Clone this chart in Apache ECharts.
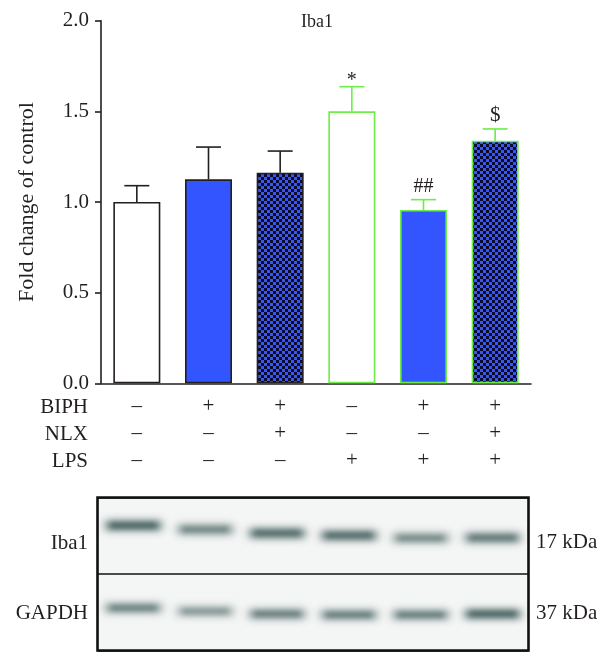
<!DOCTYPE html>
<html><head><meta charset="utf-8">
<script src="https://cdn.jsdelivr.net/npm/echarts@6/dist/echarts.min.js"></script>
<style>html,body{margin:0;padding:0;background:#fff}#c{width:610px;height:667px}</style>
</head><body><div id="c"></div>
<script>
// ---- data ----
const groups = ['Control', 'BIPH', 'BIPH+NLX', 'LPS', 'BIPH+LPS', 'BIPH+NLX+LPS'];
const means = [1.00, 1.125, 1.162, 1.50, 0.956, 1.338];
const sems = [0.09, 0.178, 0.119, 0.136, 0.057, 0.065];
const signif = ['', '', '', '*', '##', '$'];
const biph = ['–', '+', '+', '–', '+', '+'];
const nlx = ['–', '–', '+', '–', '–', '+'];
const lps = ['–', '–', '–', '+', '+', '+'];
const rowNames = ['BIPH', 'NLX', 'LPS'];
const chartTitle = 'Iba1';
const yAxisName = 'Fold change of control';
const blotLanes = ['1', '2', '3', '4', '5', '6'];
const blotRowNames = ['Iba1', 'GAPDH'];
const blotSizes = ['17 kDa', '37 kDa'];
const iba1BandPos = [18.3, 20.9, 23.3, 24.8, 26.5, 26.3];
const iba1BandInt = [0.95, 0.8, 0.92, 0.92, 0.78, 0.86];
const gapdhBandPos = [72.2, 74.4, 76.1, 76.7, 76.7, 76.1];
const gapdhBandInt = [0.86, 0.76, 0.88, 0.88, 0.88, 1.0];

// ---- styles ----
const FONT = '"Liberation Serif", "DejaVu Serif", serif';
const INK = '#231f20';
const BLUE = '#3355ff';
const GREEN = '#6cee48';

function checker() {
  const c = document.createElement('canvas');
  c.width = 6; c.height = 6;
  const g = c.getContext('2d');
  g.fillStyle = '#3a58ef'; g.fillRect(0, 0, 6, 6);
  g.fillStyle = '#0b0b2a'; g.fillRect(0, 0, 3, 3); g.fillRect(3, 3, 3, 3);
  return c;
}
const pat = { image: checker(), repeat: 'repeat' };
const fills = ['#ffffff', BLUE, pat, '#ffffff', BLUE, pat];
const borders = [INK, INK, INK, GREEN, GREEN, GREEN];

const chart = echarts.init(document.getElementById('c'), null, { renderer: 'canvas' });

const barData = means.map((m, i) => ({
  value: m,
  itemStyle: { color: fills[i], borderColor: borders[i], borderWidth: 1.6 }
}));
const errData = means.map((m, i) => [i, m, m + sems[i]]);

const bandData = [];
blotLanes.forEach((l, i) => {
  bandData.push([i, iba1BandPos[i], iba1BandInt[i], 8]);
  bandData.push([i, gapdhBandPos[i], gapdhBandInt[i], 7]);
});

function txt(x, y, text, size, align) {
  return { type: 'text', x: x, y: y, z: 10, style: { text: text, fontSize: size, fontFamily: FONT, fill: INK,
    align: align, verticalAlign: 'middle', textAlign: align, textVerticalAlign: 'middle' } };
}

const OFF = 3000;
const option = {
  backgroundColor: '#ffffff',
  animation: false,
  textStyle: { fontFamily: FONT },
  grid: [
    { left: 101, width: 430, top: 20.7, height: 362.6, containLabel: false },
    { left: 97.5, width: 431, top: 497.5, height: 153, show: true,
      borderColor: '#111', borderWidth: 2.6, backgroundColor: '#f4f6f5' }
  ],
  xAxis: [
    { type: 'category', gridIndex: 0, data: groups,
      axisLine: { lineStyle: { color: INK, width: 1.6 } },
      axisTick: { alignWithLabel: true, length: 6, lineStyle: { color: INK, width: 1.6 } },
      axisLabel: { interval: 0, margin: 10, fontSize: 21, lineHeight: 27, color: INK, fontFamily: FONT,
        formatter: (v, idx) => [biph[idx], nlx[idx], lps[idx]].join('\n') } },
    { type: 'category', gridIndex: 1, data: blotLanes, show: false }
  ],
  yAxis: [
    { type: 'value', gridIndex: 0, min: 0, max: 2, interval: 0.5,
      name: yAxisName, nameLocation: 'middle', nameGap: 63, nameRotate: 90,
      nameTextStyle: { fontSize: 22, color: INK, fontFamily: FONT },
      axisLine: { show: true, lineStyle: { color: INK, width: 1.6 } },
      axisTick: { show: true, length: 6, lineStyle: { color: INK, width: 1.6 } },
      splitLine: { show: false },
      axisLabel: { fontSize: 21, color: INK, margin: 12, fontFamily: FONT, formatter: v => v.toFixed(1) } },
    { type: 'value', gridIndex: 1, min: 0, max: 100, interval: 50, inverse: true,
      axisLine: { show: false }, axisTick: { show: false }, axisLabel: { show: false },
      splitLine: { show: true, lineStyle: { color: '#111', width: 1.6 } } }
  ],
  graphic: [
    txt(317, 22, chartTitle, 18, 'center'),
    ...rowNames.map((t, k) => txt(88, 407.7 + k * 27, t, 21, 'right')),
    ...blotRowNames.map((t, k) => txt(88, 543 + k * 70, t, 21, 'right')),
    ...blotSizes.map((t, k) => txt(536, 542 + k * 71, t, 21, 'left'))
  ],
  series: [
    { type: 'bar', xAxisIndex: 0, yAxisIndex: 0, data: barData, barWidth: 47, z: 2 },
    { type: 'custom', xAxisIndex: 0, yAxisIndex: 0, data: errData, z: 3,
      renderItem: (params, api) => {
        const i = api.value(0);
        const b = api.coord([i, api.value(1)]);
        const t = api.coord([i, api.value(2)]);
        const col = borders[i];
        const half = 12.5;
        const lbl = signif[i];
        const fs = lbl === '##' ? 20 : (lbl === '$' ? 21 : 20);
        return { type: 'group', children: [
          { type: 'line', shape: { x1: b[0], y1: b[1], x2: t[0], y2: t[1] }, style: { stroke: col, lineWidth: 1.6 } },
          { type: 'line', shape: { x1: t[0] - half, y1: t[1], x2: t[0] + half, y2: t[1] }, style: { stroke: col, lineWidth: 1.6 } },
          { type: 'text', x: t[0], y: t[1] - (lbl === '*' ? 6 : 13),
            style: { text: lbl, fontSize: fs, fontFamily: FONT, fill: INK, align: 'center', verticalAlign: 'middle' } }
        ] };
      } },
    { type: 'custom', xAxisIndex: 1, yAxisIndex: 1, data: bandData, z: 2, clip: false,
      renderItem: (params, api) => {
        const p = api.coord([api.value(0), api.value(1)]);
        const w = api.size([1, 0])[0] * 0.8;
        const h = api.value(3);
        const a = api.value(2);
        const c = 'rgba(38,70,68,' + a + ')';
        return { type: 'group', children: [
          { type: 'rect', shape: { x: p[0] - w / 2 - OFF, y: p[1] - h / 2, width: w, height: h, r: h / 2 },
            style: { fill: c, shadowBlur: 8, shadowOffsetX: OFF, shadowColor: c } },
          { type: 'rect', shape: { x: p[0] - w * 0.4 - OFF, y: p[1] - h * 0.3, width: w * 0.8, height: h * 0.6, r: h / 3 },
            style: { fill: c, shadowBlur: 5, shadowOffsetX: OFF, shadowColor: 'rgba(38,70,68,' + (a * 0.6) + ')' } }
        ] };
      } }
  ]
};
chart.setOption(option);
</script>
</body></html>
